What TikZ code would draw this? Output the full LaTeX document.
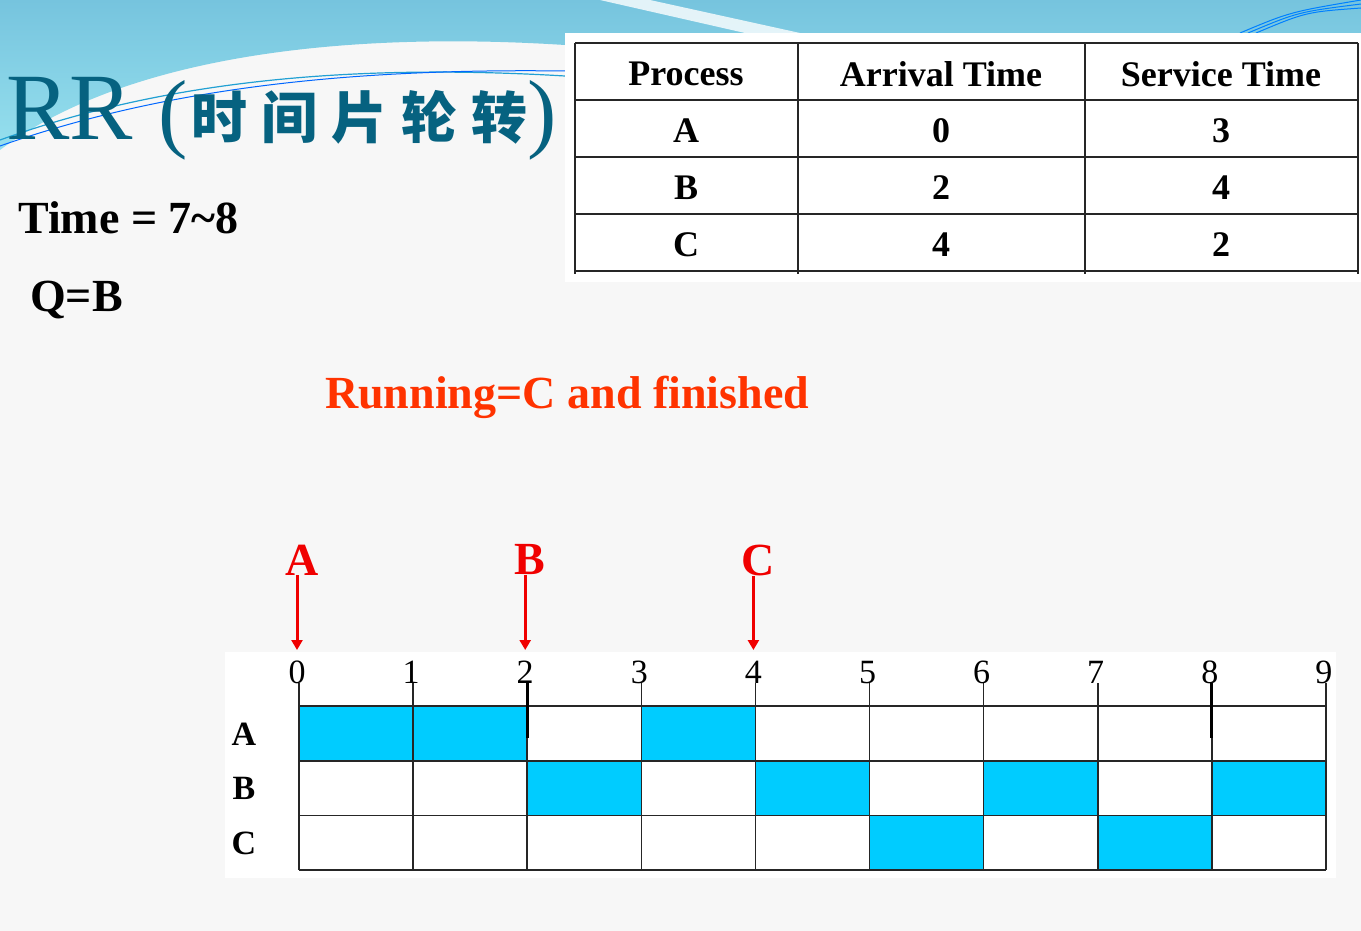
\documentclass[tikz,border=0pt]{standalone}
\usepackage{fontspec}
\setmainfont{Liberation Serif}
\newfontfamily\cjk{Noto Sans CJK SC}
\usetikzlibrary{arrows.meta}
\definecolor{sky}{RGB}{118,196,222}
\definecolor{skyhi}{RGB}{150,224,238}
\definecolor{deepteal}{RGB}{6,98,128}
\definecolor{runblue}{RGB}{0,204,255}
\definecolor{hotred}{RGB}{240,0,0}
\definecolor{orangered}{RGB}{255,51,0}
\begin{document}
\begin{tikzpicture}[x=1pt,y=-1pt,
		tbltext/.style={font=\bfseries\fontsize{36}{40}\selectfont, inner sep=0pt},
		bigtext/.style={font=\bfseries\fontsize{46}{50}\selectfont, anchor=west, inner sep=0pt},
		ticknum/.style={font=\fontsize{34}{36}\selectfont, inner sep=0pt, anchor=south},
		rowname/.style={font=\bfseries\fontsize{34}{36}\selectfont, inner sep=0pt},
		arrival/.style={text=hotred, font=\bfseries\fontsize{46}{50}\selectfont, inner sep=0pt},
		arrivalarrow/.style={hotred, line width=3pt, -{Triangle[width=11pt,length=10pt]}},
		busy/.style={fill=runblue},
		gridline/.style={line width=1.6pt, black!85}]
		\useasboundingbox (0,0) rectangle (1361,931);
		\fill[black!3] (0,0) rectangle (1361,931);
		\shade[top color=sky, bottom color=skyhi] (0,0) -- (1361,0) -- (1361,33) -- (565,33) -- (565,45)
			.. controls (330,30) and (120,60) .. (0,150) -- cycle;
		\fill[white, opacity=.8] (600,0) -- (650,0) -- (800,33) -- (745,33) -- cycle;
		\draw[cyan!70!teal, line width=1.2pt] (0,140) .. controls (150,86) and (330,62) .. (565,76);
		\draw[blue!60!cyan, line width=1pt] (0,146) .. controls (160,90) and (340,68) .. (565,71);
		\foreach \d in {0,8,16}
			\draw[blue!50!cyan, line width=1pt] (1240+\d,33) .. controls (1290+\d,12) .. (1361,\d/2);
		\node[anchor=base west, inner sep=0pt, text=deepteal, font=\fontsize{95}{95}\selectfont] (title) at (6,140) {RR};
		\node[anchor=base west, inner sep=0pt, text=deepteal] (subtitle) at (158,142)
			{{\fontsize{88}{88}\selectfont(}\kern4pt\raisebox{3pt}{\cjk\bfseries\fontsize{56}{56}\selectfont\addfontfeature{LetterSpace=25}时间片轮转}{\fontsize{88}{88}\selectfont)}};
		% process table
		\fill[white] (565,33) rectangle (1361,282);
		\foreach \y in {43,100,157,214,271}
			\draw[gridline] (575,\y) -- (1358,\y);
		\foreach \x in {575,798,1085,1358}
			\draw[gridline] (\x,43) -- (\x,274);
		\foreach \p/\a/\s [count=\r from 0] in {Process/Arrival Time/Service Time, A/0/3, B/2/4, C/4/2} {
			\node[tbltext] (proc\r) at (686,74+57*\r) {\p};
			\node[tbltext] (arr\r) at (941,74+57*\r) {\a};
			\node[tbltext] (serv\r) at (1221,74+57*\r) {\s};
		}
		\node[bigtext] (clock) at (18,218) {Time = 7\textasciitilde 8};
		\node[bigtext] (queue) at (30,300) {Q=B};
		\node[bigtext, text=orangered] (running) at (325,397) {Running=C and finished};
		% gantt chart
		\fill[white] (225,652) rectangle (1336,878);
		\foreach \r/\s in {0/0,0/1,0/3,1/2,1/4,1/6,1/8,2/5,2/7}
			\fill[busy] (299+114.1*\s,706+54.7*\r) rectangle ++(114.1,54.7);
		\foreach \r in {0,...,3}
			\draw[gridline] (299,706+54.7*\r) -- (1326,706+54.7*\r);
		\foreach \i in {0,...,9} {
			\draw[gridline] (299+114.1*\i,683) -- (299+114.1*\i,870);
			\node[ticknum] (tick\i) at (297+114.1*\i,684) {\i};
		}
		\foreach \i in {2,8}
			\draw[line width=3pt] (299+114.1*\i,683) -- (299+114.1*\i,738);
		\foreach \p [count=\r from 0] in {A,B,C}
			\node[rowname] (row\p) at (244,734+54.7*\r) {\p};
		\foreach \p/\i in {A/0,B/2,C/4} {
			\node[arrival] (come\p) at (302+114.1*\i,560) {\p};
			\coordinate (hit\p) at (297+114.1*\i,650);
			\draw[arrivalarrow] (come\p.south -| hit\p) -- (hit\p);
		}
\end{tikzpicture}
\end{document}
